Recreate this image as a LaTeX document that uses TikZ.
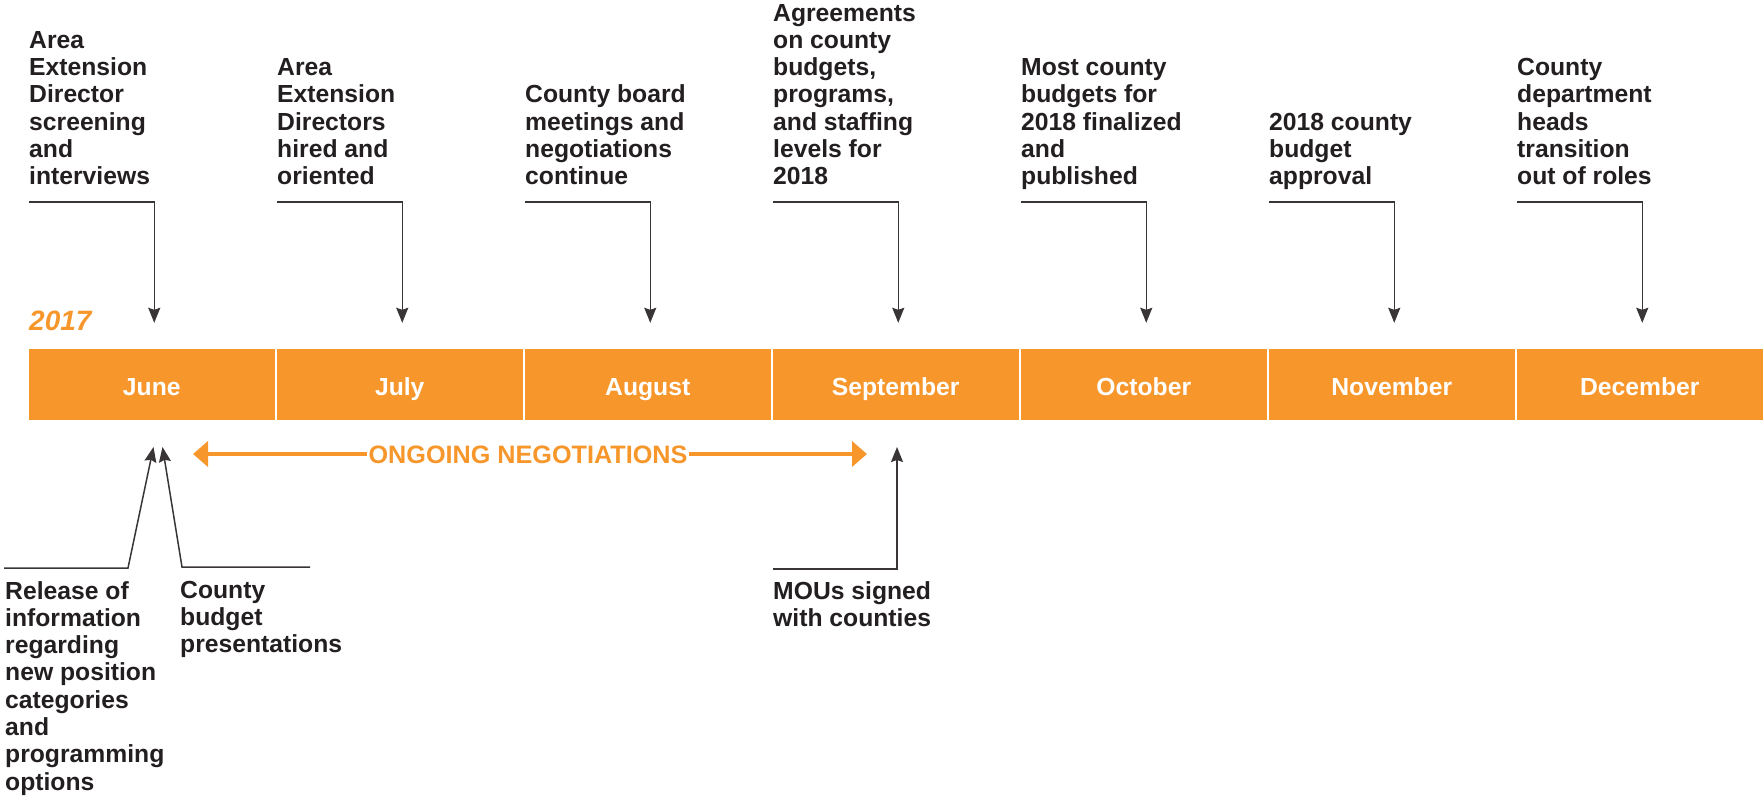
\documentclass[tikz,border=0pt]{standalone}
\usepackage{fontspec}
\setmainfont{Liberation Sans}
\usetikzlibrary{arrows.meta}
\definecolor{tlorange}{RGB}{247,150,43}
\definecolor{tlgray}{RGB}{35,31,32}
\begin{document}
\begin{tikzpicture}[x=1pt,y=-1pt,
  txt/.style={font=\bfseries\fontsize{24.7}{27.3}\selectfont, text=tlgray, align=left, inner sep=0pt,
    execute at begin node=\strut, execute at end node=\strut},
  toptxt/.style={txt, anchor=south west},
  bottxt/.style={txt, anchor=north west},
  month/.style={rectangle, fill=tlorange, draw=none, minimum width=245.5pt, minimum height=71pt, inner sep=0pt,
    text=white, font=\bfseries\fontsize{24.7}{27.3}\selectfont, text height=21pt, text depth=0pt},
  conn/.style={draw=tlgray!90, line width=1.5pt, -{Stealth[length=15pt,width=12pt,inset=2pt]}},
  downconn/.style={conn, shorten >=26pt},
  neg/.style={draw=tlorange, line width=4pt, -{Triangle[length=15pt,width=25pt]}}
]
\useasboundingbox (0,0) rectangle (1763,796);

% month bar
\foreach \k/\name/\lab in {0/m0/June,1/m1/July,2/m2/August,3/m3/September,4/m4/October,5/m5/November,6/m6/December}{
  \node[month] (\name) at ({151.75+248*\k},384.5) {\lab};
}

% year
\node[anchor=base west, inner sep=0pt, text=tlorange, font=\bfseries\itshape\fontsize{28}{30}\selectfont] (year) at (29,330) {2017};

% top texts
\node[toptxt] (t0) at (29,193.2) {Area\\Extension\\Director\\screening\\and\\interviews};
\node[toptxt] (t1) at (277,193.2) {Area\\Extension\\Directors\\hired and\\oriented};
\node[toptxt] (t2) at (525,193.2) {County board\\meetings and\\negotiations\\continue};
\node[toptxt] (t3) at (773,193.2) {Agreements\\on county\\budgets,\\programs,\\and staffing\\levels for\\2018};
\node[toptxt] (t4) at (1021,193.2) {Most county\\budgets for\\2018 finalized\\and\\published};
\node[toptxt] (t5) at (1269,193.2) {2018 county\\budget\\approval};
\node[toptxt] (t6) at (1517,193.2) {County\\department\\heads\\transition\\out of roles};

% top connectors
\foreach \k in {0,...,6}{
  \coordinate (tl\k) at ({29+248*\k},202);
  \draw[downconn] (tl\k) -| ([xshift=2.5pt]m\k.north);
}

% bottom texts
\node[bottxt] (b0) at (5,580.9) {Release of\\information\\regarding\\new position\\categories\\and\\programming\\options};
\node[bottxt] (b1) at (180,580.9) {County\\budget\\presentations};
\node[bottxt] (b3) at (773,580.9) {MOUs signed\\with counties};

% bottom connectors
\coordinate (rl) at (4,568);
\coordinate (rk) at (128,568);
\coordinate (rtip) at (153.5,447);
\coordinate (cl) at (310,567);
\coordinate (ck) at (182,567);
\coordinate (ctip) at (162.5,447);
\coordinate (ml) at (773,569);
\coordinate (mtip) at (897,447);
\draw[conn] (rl) -- (rk) -- (rtip);
\draw[conn] (cl) -- (ck) -- (ctip);
\draw[conn] (ml) -| (mtip);

% ongoing negotiations
\node[anchor=base, inner sep=1pt, text=tlorange, font=\bfseries\fontsize{25.2}{27}\selectfont] (ong) at (528,463) {ONGOING NEGOTIATIONS};
\coordinate (negL) at (193,454);
\coordinate (negR) at (867,454);
\draw[neg] (ong.west |- negL) -- (negL);
\draw[neg] (ong.east |- negR) -- (negR);
\end{tikzpicture}
\end{document}
